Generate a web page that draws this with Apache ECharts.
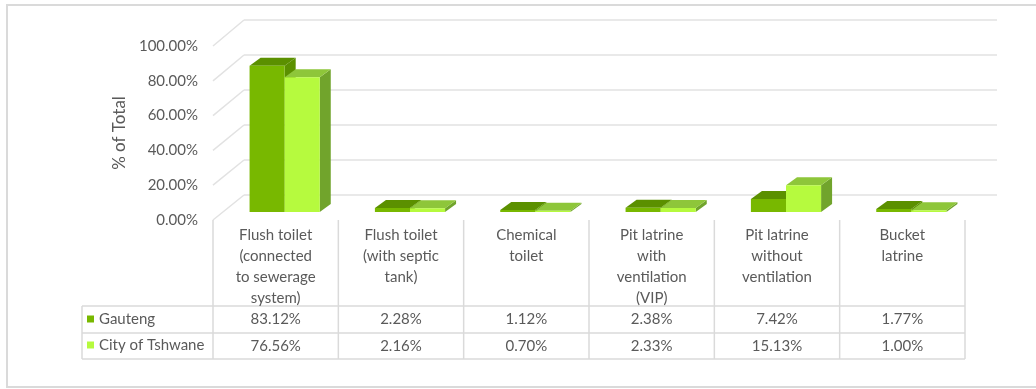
<!DOCTYPE html>
<html><head><meta charset="utf-8">
<script src="https://cdn.jsdelivr.net/npm/echarts@6/dist/echarts.min.js"></script>
<style>html,body{margin:0;padding:0;background:#fff}#c{width:1036px;height:389px}</style>
</head><body><div id="c"></div>
<script>
// ---- data ----
const categories = ['Flush toilet\n(connected\nto sewerage\nsystem)', 'Flush toilet\n(with septic\ntank)', 'Chemical\ntoilet', 'Pit latrine\nwith\nventilation\n(VIP)', 'Pit latrine\nwithout\nventilation', 'Bucket\nlatrine'];
const seriesNames = ['Gauteng', 'City of Tshwane'];
const gauteng = [83.12, 2.28, 1.12, 2.38, 7.42, 1.77];
const tshwane = [76.56, 2.16, 0.70, 2.33, 15.13, 1.00];
const yTicks = [0, 20, 40, 60, 80, 100];

// ---- styling / layout ----
const FONT = 'Lato';
const TXT = '#5a5a5a';
const LINE = '#dadada';
const WALL = '#e2e2e2';
const FRONT = {left: 213, right: 71, top: 46, bottom: 169};
const BACK = {left: 244, right: 39, top: 20, bottom: 194};
const BARS = {left: 222, right: 62, top: 36, bottom: 177};
const TABLE_ROWS = [306, 333, 359];
const LEGEND_LEFT = 82;
const DEPTH = {dx: 11, dy: -8};
const COLORS = [
  {front: '#78b800', top: '#5b9000', side: '#5b9000'},
  {front: '#b6fa3e', top: '#8ec63a', side: '#71a42c'}
];

function fmt(v) { return v.toFixed(2) + '%'; }

function render3D(s) {
  return function (params, api) {
    const cat = api.value(0), val = api.value(1);
    const top = api.coord([cat, val]);
    const bot = api.coord([cat, 0]);
    const cw = api.size([1, 0])[0];
    const bw = cw * 0.28;
    const x0 = top[0] - bw + s * bw;
    const yT = top[1], yB = bot[1];
    const dx = DEPTH.dx, dy = DEPTH.dy;
    const c = COLORS[s];
    return {
      type: 'group',
      children: [
        {type: 'polygon', shape: {points: [[x0 + bw, yT], [x0 + bw + dx, yT + dy], [x0 + bw + dx, yB + dy], [x0 + bw, yB]]}, style: {fill: c.side}},
        {type: 'polygon', shape: {points: [[x0, yT], [x0 + bw, yT], [x0 + bw + dx, yT + dy], [x0 + dx, yT + dy]]}, style: {fill: c.top}},
        {type: 'rect', shape: {x: x0, y: yT, width: bw, height: yB - yT}, style: {fill: c.front}}
      ]
    };
  };
}

const chart = echarts.init(document.getElementById('c'), null, {renderer: 'canvas'});
const baseText = {fontFamily: FONT, color: TXT, fontSize: 15};

const option = {
  animation: false,
  textStyle: {fontFamily: FONT},
  grid: [
    Object.assign({}, FRONT),
    Object.assign({}, BACK),
    Object.assign({}, BARS)
  ],
  legend: {
    data: seriesNames,
    orient: 'vertical',
    left: LEGEND_LEFT + 5,
    top: 310,
    padding: 0,
    itemWidth: 7,
    itemHeight: 7,
    itemGap: 8,
    icon: 'rect',
    selectedMode: false,
    textStyle: Object.assign({}, baseText, {lineHeight: 18})
  },
  xAxis: [
    {type: 'category', gridIndex: 0, data: categories, axisLine: {show: false}, axisTick: {show: false}, splitLine: {show: false},
     axisLabel: Object.assign({}, baseText, {interval: 0, margin: 5, lineHeight: 21})},
    {type: 'category', gridIndex: 0, data: gauteng.map(fmt), position: 'bottom', offset: 90, axisLine: {show: false}, axisTick: {show: false},
     axisLabel: Object.assign({}, baseText, {interval: 0, margin: 0, lineHeight: 18})},
    {type: 'category', gridIndex: 0, data: tshwane.map(fmt), position: 'bottom', offset: 117, axisLine: {show: false}, axisTick: {show: false},
     axisLabel: Object.assign({}, baseText, {interval: 0, margin: 0, lineHeight: 18})},
    {type: 'category', gridIndex: 1, data: categories, show: false},
    {type: 'category', gridIndex: 2, data: categories, show: false}
  ],
  yAxis: [
    {type: 'value', gridIndex: 0, min: yTicks[0], max: yTicks[yTicks.length - 1], interval: 20,
     name: '% of Total', nameLocation: 'middle', nameGap: 75,
     nameTextStyle: {fontFamily: FONT, color: TXT, fontSize: 17},
     axisLine: {show: false}, axisTick: {show: false}, splitLine: {show: false},
     axisLabel: Object.assign({}, baseText, {margin: 15, formatter: fmt})},
    {type: 'value', gridIndex: 1, min: yTicks[0], max: yTicks[yTicks.length - 1], interval: 20,
     axisLine: {show: false}, axisTick: {show: false}, axisLabel: {show: false},
     splitLine: {show: true, lineStyle: {color: WALL, width: 1.5}}},
    {type: 'value', gridIndex: 2, min: yTicks[0], max: yTicks[yTicks.length - 1], show: false}
  ],
  series: [
    {name: seriesNames[0], type: 'custom', xAxisIndex: 4, yAxisIndex: 2, z: 3,
     itemStyle: {color: COLORS[0].front}, renderItem: render3D(0),
     data: gauteng.map((v, i) => [i, v])},
    {name: seriesNames[1], type: 'custom', xAxisIndex: 4, yAxisIndex: 2, z: 4,
     itemStyle: {color: COLORS[1].front}, renderItem: render3D(1),
     data: tshwane.map((v, i) => [i, v])}
  ]
};
chart.setOption(option);

// structural lines (walls, floor edge and data table) derived from the axes
const g = [];
const fL = FRONT.left, fR = 1036 - FRONT.right, bL = BACK.left;
yTicks.forEach(v => {
  const yf = chart.convertToPixel({yAxisIndex: 0}, v);
  const yb = chart.convertToPixel({yAxisIndex: 1}, v);
  g.push({type: 'line', z: 0, shape: {x1: fL, y1: yf, x2: bL, y2: yb}, style: {stroke: WALL, lineWidth: 1.5}});
});
const y0 = chart.convertToPixel({yAxisIndex: 0}, 0);
const colW = (fR - fL) / categories.length;
for (let i = 0; i <= categories.length; i++) {
  const x = fL + i * colW;
  g.push({type: 'line', z: 0, shape: {x1: x, y1: y0, x2: x, y2: TABLE_ROWS[2]}, style: {stroke: LINE, lineWidth: 1.5}});
}
g.push({type: 'line', z: 0, shape: {x1: LEGEND_LEFT, y1: TABLE_ROWS[0], x2: LEGEND_LEFT, y2: TABLE_ROWS[2]}, style: {stroke: LINE, lineWidth: 1.5}});
TABLE_ROWS.forEach(y => g.push({type: 'line', z: 0, shape: {x1: LEGEND_LEFT, y1: y, x2: fR, y2: y}, style: {stroke: LINE, lineWidth: 1.5}}));
g.push({type: 'rect', z: 0, shape: {x: 7, y: 5, width: 1040, height: 382}, style: {fill: 'none', stroke: LINE, lineWidth: 2}});
chart.setOption({graphic: {elements: g}});
</script>
</body></html>
